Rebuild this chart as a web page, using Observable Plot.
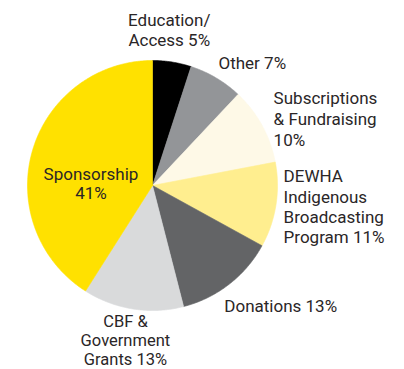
<!DOCTYPE html>
<html>
<head>
<meta charset="utf-8">
<script src="https://cdn.jsdelivr.net/npm/d3@7"></script>
<script src="https://cdn.jsdelivr.net/npm/@observablehq/plot@0.6"></script>
<style>
  html, body { margin: 0; padding: 0; background: #fff; }
  #chart { width: 404px; height: 369px; }
</style>
</head>
<body>
<div id="chart"></div>
<script>
// ---- data ----
const categories = [
  "Education/\nAccess",
  "Other",
  "Subscriptions\n& Fundraising",
  "DEWHA\nIndigenous\nBroadcasting\nProgram",
  "Donations",
  "CBF &\nGovernment\nGrants",
  "Sponsorship"
];
const shares = [5, 7, 10, 11, 13, 13, 41];
const percentText = ["5%", "7%", "10%", "11%", "13%", "13%", "41%"];
const sliceColors = ["#000000", "#939598", "#fef9e7", "#ffee8f", "#636466", "#d9dadb", "#ffe100"];
// how the percentage joins the name: " " on same line, "\n" on new line
const joiners = [" ", " ", "\n", " ", " ", " ", "\n"];

// ---- label layout (separate from data) ----
const labelLayout = [
  {k: 1.266, anchor: "middle", lh: 20 / 17, dx: -8, dy: 0, fs: 17},
  {k: 1.147, anchor: "start", lh: 1.2, dx: -7, dy: 0, fs: 17},
  {k: 1.124, anchor: "start", lh: 21 / 17, dx: -2, dy: 0, fs: 17},
  {k: 1.07, anchor: "start", lh: 20.3 / 17, dx: -1, dy: 0, fs: 17},
  {k: 1.211, anchor: "start", lh: 1.2, dx: -21, dy: 0, fs: 17},
  {k: 1.283, anchor: "middle", lh: 1.15, dx: -2, dy: -4, fs: 16.5},
  {k: 0.5125, anchor: "middle", lh: 1.1, dx: 0, dy: 16, fs: 17}
];

// ---- build slices via d3.pie (clockwise from 12 o'clock) ----
const pie = d3.pie().sort(null).value(d => d)(shares);
const slicePts = [];
pie.forEach((p, i) => {
  const name = categories[i];
  slicePts.push({name, x: 0, y: 0});
  const steps = Math.max(2, Math.ceil((p.endAngle - p.startAngle) / (Math.PI / 360)));
  for (let s = 0; s <= steps; ++s) {
    const a = p.startAngle + (p.endAngle - p.startAngle) * s / steps;
    slicePts.push({name, x: Math.sin(a), y: Math.cos(a)});
  }
  slicePts.push({name, x: 0, y: 0});
});

const labels = pie.map((p, i) => {
  const mid = (p.startAngle + p.endAngle) / 2;
  const L = labelLayout[i];
  return {
    name: categories[i],
    text: categories[i] + joiners[i] + percentText[i],
    x: Math.sin(mid) * L.k,
    y: Math.cos(mid) * L.k,
    ...L
  };
});

const textMarks = labels.map(l => Plot.text([l], {
  x: "x", y: "y", text: "text",
  textAnchor: l.anchor,
  lineAnchor: "middle",
  lineHeight: l.lh,
  dx: l.dx, dy: l.dy,
  fontSize: l.fs,
  fill: "#2a2627"
}));

const chart = Plot.plot({
  width: 404,
  height: 369,
  marginLeft: 27,
  marginRight: 127,
  marginTop: 60,
  marginBottom: 59,
  style: {fontFamily: "Roboto, 'Open Sans', sans-serif", background: "#fff"},
  x: {domain: [-1, 1], axis: null},
  y: {domain: [-1, 1], axis: null},
  color: {domain: categories, range: sliceColors},
  marks: [
    Plot.line(slicePts, {
      x: "x", y: "y", z: "name",
      fill: "name", stroke: "name", strokeWidth: 0.6,
      curve: "linear-closed"
    }),
    ...textMarks
  ]
});
document.getElementById("chart").appendChild(chart);
</script>
</body>
</html>
